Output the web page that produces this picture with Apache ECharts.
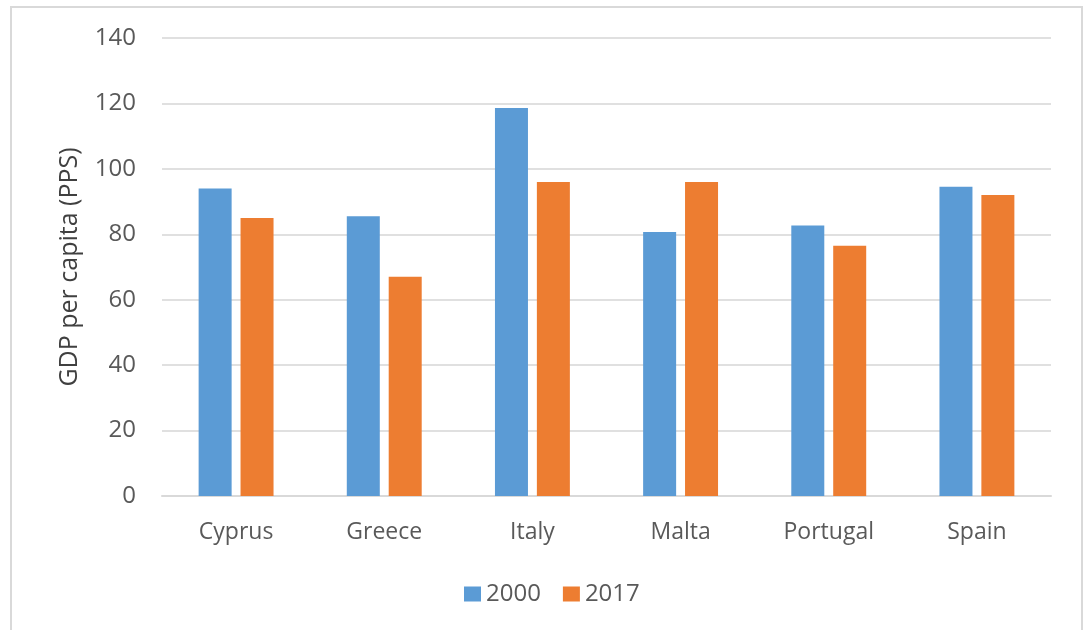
<!DOCTYPE html>
<html>
<head>
<meta charset="utf-8">
<script src="https://cdn.jsdelivr.net/npm/echarts@6/dist/echarts.min.js"></script>
<style>
  html, body { margin: 0; padding: 0; background: #ffffff; }
  #chart { width: 1086px; height: 630px; }
</style>
</head>
<body>
<div id="chart"></div>
<script>
// GDP per capita in purchasing power standards, by country
const countries = ['Cyprus', 'Greece', 'Italy', 'Malta', 'Portugal', 'Spain'];
const gdp2000 = [94, 85.5, 118.6, 80.7, 82.7, 94.5];
const gdp2017 = [85, 67, 96, 96, 76.5, 92];
const seriesNames = ['2000', '2017'];

const textColor = '#595959';
const fontFamily = 'Open Sans, Noto Sans, sans-serif';

const chart = echarts.init(document.getElementById('chart'));
chart.setOption({
  animation: false,
  backgroundColor: '#ffffff',
  textStyle: { fontFamily: fontFamily, color: textColor },
  graphic: [{
    type: 'rect',
    shape: { x: 11, y: 7, width: 1071, height: 640 },
    style: { fill: 'none', stroke: '#d9d9d9', lineWidth: 2 },
    silent: true
  }],
  legend: {
    data: seriesNames,
    left: 459,
    top: 577,
    itemWidth: 17,
    itemHeight: 15,
    itemGap: 22,
    icon: 'rect',
    textStyle: { fontSize: 24, color: textColor, fontFamily: fontFamily }
  },
  grid: { left: 162, right: 35, top: 38, bottom: 134, containLabel: false },
  xAxis: {
    type: 'category',
    data: countries,
    axisLine: { lineStyle: { color: '#d9d9d9', width: 2 } },
    axisTick: { show: false },
    axisLabel: { fontSize: 23, color: textColor, margin: 25, fontFamily: fontFamily }
  },
  yAxis: {
    type: 'value',
    min: 0,
    max: 140,
    interval: 20,
    name: 'GDP per capita (PPS)',
    nameLocation: 'middle',
    nameGap: 80,
    nameTextStyle: { fontSize: 25, color: '#404040', fontFamily: fontFamily },
    axisLine: { show: false },
    axisTick: { show: false },
    axisLabel: { fontSize: 24, color: textColor, margin: 26, fontFamily: fontFamily },
    splitLine: { lineStyle: { color: '#e0e0e0', width: 2 } }
  },
  series: [
    {
      name: seriesNames[0],
      type: 'bar',
      data: gdp2000,
      barWidth: 33,
      barGap: '27%',
      itemStyle: { color: '#5B9BD5' }
    },
    {
      name: seriesNames[1],
      type: 'bar',
      data: gdp2017,
      barWidth: 33,
      barGap: '27%',
      itemStyle: { color: '#ED7D31' }
    }
  ]
});
</script>
</body>
</html>
